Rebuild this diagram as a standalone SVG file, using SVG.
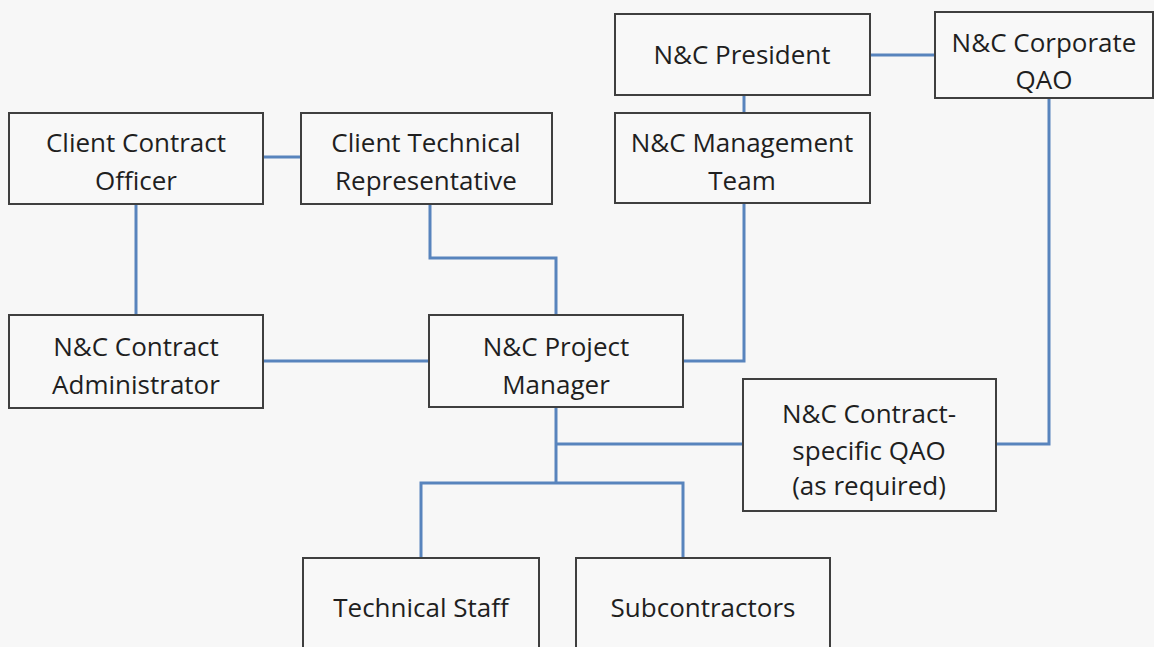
<svg xmlns="http://www.w3.org/2000/svg" width="1154" height="647" viewBox="0 0 1154 647">
<style>
.bg{fill:#f7f7f7}
.box{fill:#f8f8f8;stroke:#3f3f3f;stroke-width:2}
.lbl{font-family:"Open Sans","Liberation Sans",sans-serif;font-size:26px;fill:#1f1f1f;text-anchor:middle}
.con{fill:none;stroke:#5884bd;stroke-width:3}
</style>
<rect class="bg" x="0" y="0" width="1154" height="647"/>
<g id="connectors">
<path class="con" d="M263,157 H301"/>
<path class="con" d="M136,204 V315"/>
<path class="con" d="M430,204 V258 H556 V315"/>
<path class="con" d="M870,55 H935"/>
<path class="con" d="M744,95 V113"/>
<path class="con" d="M744,203 V361 H683"/>
<path class="con" d="M263,361 H429"/>
<path class="con" d="M1049,98 V444 H996"/>
<path class="con" d="M556,407 V483"/>
<path class="con" d="M556,444 H743"/>
<path class="con" d="M421,558 V483 H683 V558"/>
</g>
<g id="client-contract-officer">
<rect class="box" x="9" y="113" width="254" height="91"/>
<text class="lbl" x="136" y="152">Client Contract</text>
<text class="lbl" x="136" y="190">Officer</text>
</g>
<g id="client-technical-rep">
<rect class="box" x="301" y="113" width="251" height="91"/>
<text class="lbl" x="426" y="152">Client Technical</text>
<text class="lbl" x="426" y="190">Representative</text>
</g>
<g id="nc-president">
<rect class="box" x="615" y="14" width="255" height="81"/>
<text class="lbl" x="742" y="64">N&amp;C President</text>
</g>
<g id="nc-corporate-qao">
<rect class="box" x="935" y="12" width="218" height="86"/>
<text class="lbl" x="1044" y="52">N&amp;C Corporate</text>
<text class="lbl" x="1044" y="89">QAO</text>
</g>
<g id="nc-management-team">
<rect class="box" x="615" y="113" width="255" height="90"/>
<text class="lbl" x="742" y="152">N&amp;C Management</text>
<text class="lbl" x="742" y="190">Team</text>
</g>
<g id="nc-contract-administrator">
<rect class="box" x="9" y="315" width="254" height="93"/>
<text class="lbl" x="136" y="356">N&amp;C Contract</text>
<text class="lbl" x="136" y="394">Administrator</text>
</g>
<g id="nc-project-manager">
<rect class="box" x="429" y="315" width="254" height="92"/>
<text class="lbl" x="556" y="356">N&amp;C Project</text>
<text class="lbl" x="556" y="394">Manager</text>
</g>
<g id="nc-contract-specific-qao">
<rect class="box" x="743" y="379" width="253" height="132"/>
<text class="lbl" x="869" y="423">N&amp;C Contract-</text>
<text class="lbl" x="869" y="460">specific QAO</text>
<text class="lbl" x="869" y="495">(as required)</text>
</g>
<g id="technical-staff">
<rect class="box" x="303" y="558" width="236" height="110"/>
<text class="lbl" x="421" y="617">Technical Staff</text>
</g>
<g id="subcontractors">
<rect class="box" x="576" y="558" width="254" height="110"/>
<text class="lbl" x="703" y="617">Subcontractors</text>
</g>
</svg>
